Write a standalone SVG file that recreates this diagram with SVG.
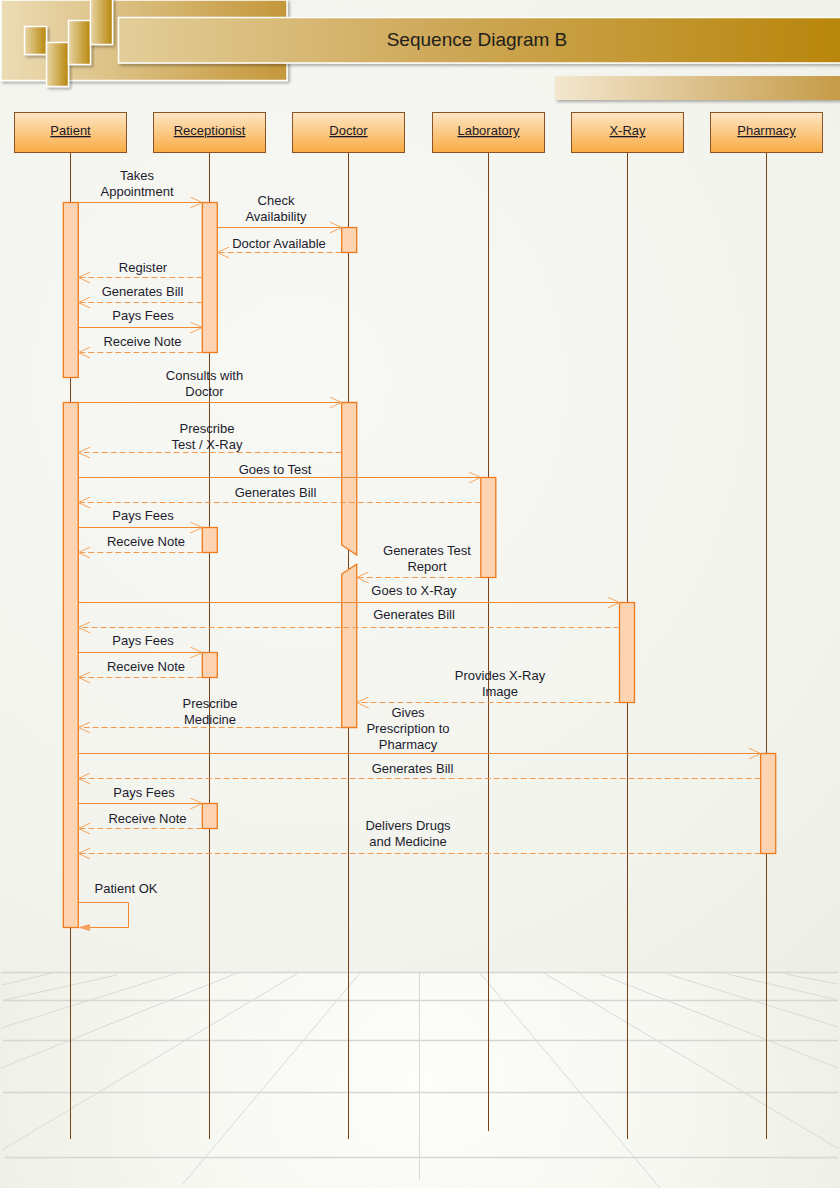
<svg xmlns="http://www.w3.org/2000/svg" width="840" height="1188" viewBox="0 0 840 1188">
  <defs>
    <radialGradient id="bgGrad" cx="300" cy="380" r="950" gradientUnits="userSpaceOnUse">
      <stop offset="0" stop-color="#f8f9f5"/>
      <stop offset="0.6" stop-color="#f2f3ec"/>
      <stop offset="1" stop-color="#e9ebe0"/>
    </radialGradient>
    <radialGradient id="floorGrad" cx="420" cy="1080" r="480" gradientUnits="userSpaceOnUse">
      <stop offset="0" stop-color="#fdfefb"/>
      <stop offset="0.55" stop-color="#f5f7f0"/>
      <stop offset="1" stop-color="#ecefe4"/>
    </radialGradient>
    <linearGradient id="panelGrad" x1="0" y1="0" x2="1" y2="0">
      <stop offset="0" stop-color="#ecdcb5"/>
      <stop offset="1" stop-color="#c4973a"/>
    </linearGradient>
    <linearGradient id="bannerGrad" x1="0" y1="0" x2="1" y2="0">
      <stop offset="0" stop-color="#e3cd99"/>
      <stop offset="0.45" stop-color="#cea858"/>
      <stop offset="1" stop-color="#b8860b"/>
    </linearGradient>
    <linearGradient id="stripGrad" x1="0" y1="0" x2="1" y2="0">
      <stop offset="0" stop-color="#f3e7ce"/>
      <stop offset="0.5" stop-color="#dcc08a"/>
      <stop offset="1" stop-color="#c49a45"/>
    </linearGradient>
    <linearGradient id="tileGrad" x1="0" y1="0" x2="1" y2="0">
      <stop offset="0" stop-color="#e8d5a6"/>
      <stop offset="1" stop-color="#b8860b"/>
    </linearGradient>
    <linearGradient id="headGrad" x1="0" y1="0" x2="0" y2="1">
      <stop offset="0" stop-color="#fde6c6"/>
      <stop offset="1" stop-color="#f9ab42"/>
    </linearGradient>
    <filter id="shadow" x="-10%" y="-20%" width="130%" height="160%">
      <feDropShadow dx="2" dy="2" stdDeviation="1.5" flood-color="#000" flood-opacity="0.3"/>
    </filter>
    <marker id="open" viewBox="0 0 12 12" markerWidth="12" markerHeight="12" refX="12" refY="6" orient="auto" markerUnits="userSpaceOnUse">
      <path d="M0,0.5 L12,6 L0,11.5" fill="none" stroke="#f8a35c" stroke-width="1"/>
    </marker>
    <marker id="filled" viewBox="0 0 12 8" markerWidth="12" markerHeight="8" refX="11" refY="4" orient="auto" markerUnits="userSpaceOnUse">
      <path d="M0,0.5 L12,4 L0,7.5 Z" fill="#f6a05a"/>
    </marker>
    <style>
      .head { fill: url(#headGrad); stroke: #8a5426; stroke-width: 1; }
      .headText { font-family: "Liberation Sans", Arial, sans-serif; font-size: 13px; fill: #1a1a2a; text-anchor: middle; text-decoration: underline; }
      .life { stroke: #7a4317; stroke-width: 1; fill: none; }
      .act { fill: #fdd4b1; stroke: #ee7a1e; stroke-width: 1.3; }
      .msg { stroke: #f08a30; stroke-width: 1; fill: none; marker-end: url(#open); }
      .ret { stroke: #f59a4c; stroke-width: 1; fill: none; stroke-dasharray: 6 3; marker-end: url(#open); }
      .self { stroke: #f08a30; stroke-width: 1; fill: none; marker-end: url(#filled); }
      .lbl { font-family: "Liberation Sans", Arial, sans-serif; font-size: 13px; fill: #1c1c2e; text-anchor: middle; }
      .grid { stroke: #d9dad6; stroke-width: 1; fill: none; }
      .gridH { stroke: #d6d7d3; stroke-width: 1.3; fill: none; }
    </style>
  </defs>

  <!-- page background and floor -->
  <rect x="0" y="0" width="840" height="1188" fill="url(#bgGrad)"/>
  <rect x="0" y="972" width="840" height="216" fill="url(#floorGrad)"/>

  <!-- perspective floor grid -->
  <g id="floor">
    <line class="gridH" x1="1" y1="972.5" x2="838" y2="972.5"/>
    <line class="gridH" x1="3" y1="1000.5" x2="838" y2="1000.5"/>
    <line class="gridH" x1="3" y1="1040.5" x2="838" y2="1040.5"/>
    <line class="gridH" x1="3" y1="1092.5" x2="838" y2="1092.5"/>
    <line class="gridH" x1="5" y1="1157.5" x2="838" y2="1157.5"/>
    <line class="grid" x1="419.5" y1="971" x2="419.5" y2="1180"/>
    <line class="grid" x1="56" y1="972" x2="2" y2="985"/>
    <line class="grid" x1="117" y1="975" x2="4" y2="1000"/>
    <line class="grid" x1="177" y1="973" x2="1" y2="1028"/>
    <line class="grid" x1="237" y1="973" x2="1" y2="1068"/>
    <line class="grid" x1="298" y1="973" x2="2" y2="1150"/>
    <line class="grid" x1="360" y1="973" x2="182" y2="1185"/>
    <line class="grid" x1="479" y1="972" x2="660" y2="1188"/>
    <line class="grid" x1="542" y1="972" x2="839" y2="1149"/>
    <line class="grid" x1="600" y1="974" x2="838" y2="1068"/>
    <line class="grid" x1="667" y1="974" x2="838" y2="1027"/>
    <line class="grid" x1="727" y1="974" x2="838" y2="1000"/>
    <line class="grid" x1="785" y1="974" x2="838" y2="984"/>
  </g>

  <!-- title block -->
  <g id="title">
    <rect x="1" y="0" width="286" height="80.5" fill="url(#panelGrad)" stroke="#ffffff" stroke-width="1.5" filter="url(#shadow)"/>
    <rect x="24.5" y="26.5" width="22" height="28" fill="url(#tileGrad)" stroke="#ffffff" stroke-width="1.5" filter="url(#shadow)"/>
    <rect x="46.5" y="42.5" width="22" height="44" fill="url(#tileGrad)" stroke="#ffffff" stroke-width="1.5" filter="url(#shadow)"/>
    <rect x="68.5" y="20.5" width="22" height="44" fill="url(#tileGrad)" stroke="#ffffff" stroke-width="1.5" filter="url(#shadow)"/>
    <rect x="90.5" y="-2" width="22" height="46.5" fill="url(#tileGrad)" stroke="#ffffff" stroke-width="1.5" filter="url(#shadow)"/>
    <rect x="118.5" y="17.5" width="724" height="45.5" fill="url(#bannerGrad)" stroke="#ffffff" stroke-width="1.5" filter="url(#shadow)"/>
    <text x="477" y="46" font-family="'Liberation Sans', Arial, sans-serif" font-size="19" fill="#22201c" text-anchor="middle">Sequence Diagram B</text>
    <rect x="555" y="76" width="290" height="24" fill="url(#stripGrad)" filter="url(#shadow)"/>
  </g>

  <!-- lifelines with their activation bars -->
  <g id="patient">
    <line class="life" x1="70.5" y1="152" x2="70.5" y2="1139"/>
    <rect class="head" x="14.5" y="112.5" width="112" height="40"/>
    <text class="headText" x="70.5" y="135">Patient</text>
    <rect class="act" x="63.3" y="202.5" width="15" height="175"/>
    <rect class="act" x="63.3" y="402.5" width="15" height="525"/>
  </g>
  <g id="receptionist">
    <line class="life" x1="209.5" y1="152" x2="209.5" y2="1139"/>
    <rect class="head" x="153.5" y="112.5" width="112" height="40"/>
    <text class="headText" x="209.5" y="135">Receptionist</text>
    <rect class="act" x="202.3" y="202.5" width="15" height="150"/>
    <rect class="act" x="202.3" y="527.5" width="15" height="25"/>
    <rect class="act" x="202.3" y="652.5" width="15" height="25"/>
    <rect class="act" x="202.3" y="803.5" width="15" height="25"/>
  </g>
  <g id="doctor">
    <line class="life" x1="348.5" y1="152" x2="348.5" y2="1139"/>
    <rect class="head" x="292.5" y="112.5" width="112" height="40"/>
    <text class="headText" x="348.5" y="135">Doctor</text>
    <rect class="act" x="341.7" y="227.5" width="15" height="25"/>
    <path class="act" d="M341.7,402.5 H356.7 V555 L341.7,545 Z"/>
    <path class="act" d="M341.7,574 L356.7,564.3 V727.5 H341.7 Z"/>
  </g>
  <g id="laboratory">
    <line class="life" x1="488.5" y1="152" x2="488.5" y2="1131"/>
    <rect class="head" x="432.5" y="112.5" width="112" height="40"/>
    <text class="headText" x="488.5" y="135">Laboratory</text>
    <rect class="act" x="480.8" y="477.5" width="15" height="100"/>
  </g>
  <g id="xray">
    <line class="life" x1="627.5" y1="152" x2="627.5" y2="1139"/>
    <rect class="head" x="571.5" y="112.5" width="112" height="40"/>
    <text class="headText" x="627.5" y="135">X-Ray</text>
    <rect class="act" x="619.5" y="602.5" width="15" height="100"/>
  </g>
  <g id="pharmacy">
    <line class="life" x1="766.5" y1="152" x2="766.5" y2="1139"/>
    <rect class="head" x="710.5" y="112.5" width="112" height="40"/>
    <text class="headText" x="766.5" y="135">Pharmacy</text>
    <rect class="act" x="760.7" y="753.5" width="15" height="100"/>
  </g>

  <!-- messages -->
  <g id="connectors">
    <line class="msg" x1="78.3" y1="202.5" x2="202.3" y2="202.5"/>
    <text class="lbl" x="137" y="180">Takes</text>
    <text class="lbl" x="137" y="196">Appointment</text>

    <line class="msg" x1="217.3" y1="227.5" x2="341.7" y2="227.5"/>
    <text class="lbl" x="276" y="205">Check</text>
    <text class="lbl" x="276" y="221">Availability</text>

    <line class="ret" x1="341.7" y1="252.5" x2="217.3" y2="252.5"/>
    <text class="lbl" x="279" y="247.5">Doctor Available</text>

    <line class="ret" x1="202.3" y1="277.5" x2="78.3" y2="277.5"/>
    <text class="lbl" x="143" y="272">Register</text>

    <line class="ret" x1="202.3" y1="302.5" x2="78.3" y2="302.5"/>
    <text class="lbl" x="142.5" y="296">Generates Bill</text>

    <line class="msg" x1="78.3" y1="327.5" x2="202.3" y2="327.5"/>
    <text class="lbl" x="143" y="320">Pays Fees</text>

    <line class="ret" x1="202.3" y1="352.5" x2="78.3" y2="352.5"/>
    <text class="lbl" x="142.5" y="346">Receive Note</text>

    <line class="msg" x1="78.3" y1="402.5" x2="341.7" y2="402.5"/>
    <text class="lbl" x="204.5" y="380">Consults with</text>
    <text class="lbl" x="204.5" y="396">Doctor</text>

    <line class="ret" x1="341.7" y1="452.5" x2="78.3" y2="452.5"/>
    <text class="lbl" x="207" y="432.5">Prescribe</text>
    <text class="lbl" x="207" y="448.5">Test / X-Ray</text>

    <line class="msg" x1="78.3" y1="477.5" x2="480.8" y2="477.5"/>
    <text class="lbl" x="275" y="473.5">Goes to Test</text>

    <line class="ret" x1="480.8" y1="502.5" x2="78.3" y2="502.5"/>
    <text class="lbl" x="275.5" y="497">Generates Bill</text>

    <line class="msg" x1="78.3" y1="527.5" x2="202.3" y2="527.5"/>
    <text class="lbl" x="143" y="520">Pays Fees</text>

    <line class="ret" x1="202.3" y1="552.5" x2="78.3" y2="552.5"/>
    <text class="lbl" x="146" y="546">Receive Note</text>

    <line class="ret" x1="480.8" y1="577.5" x2="356.7" y2="577.5"/>
    <text class="lbl" x="427" y="555">Generates Test</text>
    <text class="lbl" x="427" y="570.5">Report</text>

    <line class="msg" x1="78.3" y1="602.5" x2="619.5" y2="602.5"/>
    <text class="lbl" x="414" y="595">Goes to X-Ray</text>

    <line class="ret" x1="619.5" y1="627.5" x2="78.3" y2="627.5"/>
    <text class="lbl" x="414" y="618.5">Generates Bill</text>

    <line class="msg" x1="78.3" y1="652.5" x2="202.3" y2="652.5"/>
    <text class="lbl" x="143" y="645">Pays Fees</text>

    <line class="ret" x1="202.3" y1="677.5" x2="78.3" y2="677.5"/>
    <text class="lbl" x="146" y="670.5">Receive Note</text>

    <line class="ret" x1="619.5" y1="702.5" x2="356.7" y2="702.5"/>
    <text class="lbl" x="500" y="680">Provides X-Ray</text>
    <text class="lbl" x="500" y="695.5">Image</text>

    <line class="ret" x1="341.7" y1="727.5" x2="78.3" y2="727.5"/>
    <text class="lbl" x="210" y="707.5">Prescribe</text>
    <text class="lbl" x="210" y="723.5">Medicine</text>

    <line class="msg" x1="78.3" y1="753.5" x2="760.7" y2="753.5"/>
    <text class="lbl" x="408" y="717">Gives</text>
    <text class="lbl" x="408" y="733">Prescription to</text>
    <text class="lbl" x="408" y="749">Pharmacy</text>

    <line class="ret" x1="760.7" y1="778.5" x2="78.3" y2="778.5"/>
    <text class="lbl" x="412.5" y="772.5">Generates Bill</text>

    <line class="msg" x1="78.3" y1="803.5" x2="202.3" y2="803.5"/>
    <text class="lbl" x="144" y="797">Pays Fees</text>

    <line class="ret" x1="202.3" y1="828.5" x2="78.3" y2="828.5"/>
    <text class="lbl" x="147.5" y="823">Receive Note</text>

    <line class="ret" x1="760.7" y1="853.5" x2="78.3" y2="853.5"/>
    <text class="lbl" x="408" y="830">Delivers Drugs</text>
    <text class="lbl" x="408" y="846">and Medicine</text>

    <polyline class="self" points="78.3,902.5 128.5,902.5 128.5,927.5 79,927.5"/>
    <text class="lbl" x="126" y="893">Patient OK</text>
  </g>
</svg>
